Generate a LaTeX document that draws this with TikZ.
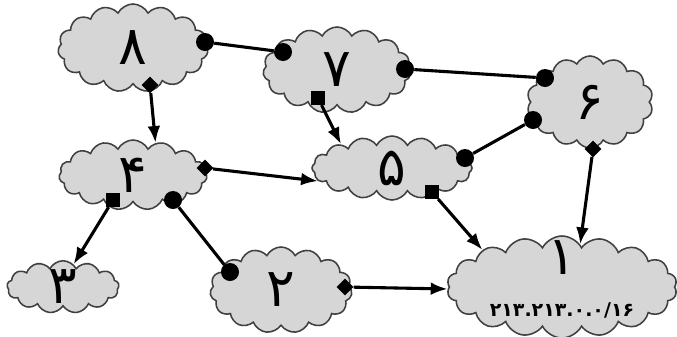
\documentclass[tikz,border=0pt]{standalone}
\usepackage{fontspec}
\newfontfamily\arabicfont[Script=Arabic]{DejaVu Sans}
\usetikzlibrary{shapes.symbols,arrows.meta}

\begin{document}
\begin{tikzpicture}[x=0.025cm,y=-0.025cm,
  clouds/.style={cloud,cloud puffs=#1,cloud puff arc=125,cloud ignores aspect,draw=black!75,line width=1.1pt,fill=black!16,inner sep=0pt,align=center,font=\arabicfont\fontsize{38}{40}\selectfont},
  dots/.style={circle,fill,inner sep=0pt,minimum size=0.45cm},
  diams/.style={rectangle,fill,rotate=45,inner sep=0pt,minimum size=0.3cm},
  squares/.style={rectangle,fill,inner sep=0pt,minimum size=0.34cm},
  links/.style={line width=2.2pt},
  feeds/.style={line width=2.2pt,-{Latex[length=0.42cm,width=0.32cm]}},
]
\useasboundingbox (0,0) rectangle (677,336);
\node (n8) [clouds=15,minimum width=3.75cm,minimum height=2.2cm] at (133,48) {۸};
\node (n7) [clouds=15,minimum width=3.7cm,minimum height=2.15cm] at (337,70) {۷};
\node (n6) [clouds=14,minimum width=3.15cm,minimum height=2.3cm] at (590,102) {۶};
\node (n4) [clouds=15,minimum width=3.7cm,minimum height=1.75cm] at (133,175) {۴};
\node (n5) [clouds=16,minimum width=4.0cm,minimum height=1.6cm] at (392,168) {۵};
\node (n3) [clouds=13,minimum width=2.8cm,minimum height=1.25cm] at (63,287) {۳};
\node (n2) [clouds=15,minimum width=3.55cm,minimum height=2.15cm] at (281,290) {۲};
\node (n1) [clouds=18,minimum width=5.75cm,minimum height=2.55cm] at (562,287) {\smash{\raisebox{-0.15cm}{\begin{tabular}{c}۱\\[-10pt]{\bfseries\fontsize{13.5}{16}\selectfont ۲۱۳.۲۱۳.۰.۰/۱۶}\end{tabular}}}};

% markers on the clouds
\node (c8) [dots] at (205,42) {};
\node (d8) [diams] at (150,85) {};
\node (c7a) [dots] at (283,52) {};
\node (c7b) [dots] at (405,69) {};
\node (s7) [squares] at (318,98) {};
\node (c6a) [dots] at (545,78) {};
\node (c6b) [dots] at (533,120) {};
\node (d6) [diams] at (593,149) {};
\node (d4) [diams] at (205,168) {};
\node (s4) [squares] at (113,200) {};
\node (c4) [dots] at (173,200) {};
\node (c5) [dots] at (465,158) {};
\node (s5) [squares] at (432,192) {};
\node (c2) [dots] at (230,272) {};
\node (d2) [diams] at (345,287) {};

% links
\draw[links] (c8) -- (c7a);
\draw[links] (c7b) -- (c6a);
\draw[links] (c6b) -- (c5);
\draw[links] (c4) -- (c2);

% feeds
\draw[feeds] (d8) -- (n4.55);
\draw[feeds] (s7) -- (n5.155);
\draw[feeds] (d4) -- (n5.190);
\draw[feeds] (s4) -- (n3.65);
\draw[feeds] (s5) -- (n1.155);
\draw[feeds] (d6) -- (n1.67);
\draw[feeds] (d2) -- (n1.181);
\end{tikzpicture}
\end{document}
